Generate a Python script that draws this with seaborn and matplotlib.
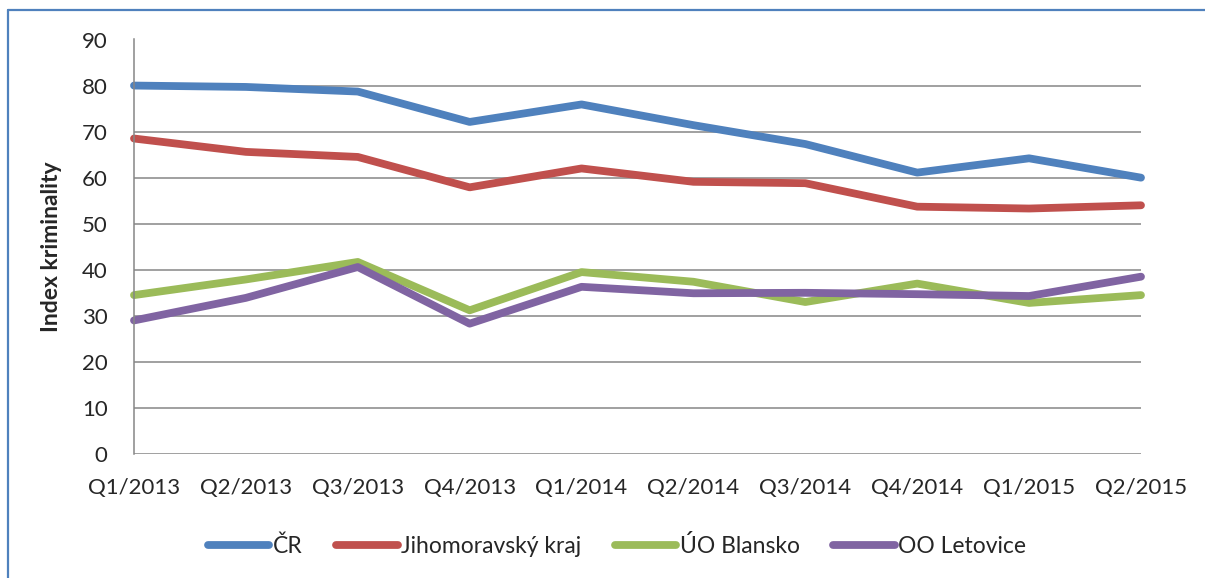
import seaborn as sns
import matplotlib.pyplot as plt
import pandas as pd
from matplotlib.lines import Line2D

# data
quarters = ['Q1/2013', 'Q2/2013', 'Q3/2013', 'Q4/2013', 'Q1/2014',
            'Q2/2014', 'Q3/2014', 'Q4/2014', 'Q1/2015', 'Q2/2015']
cr = [80.0, 79.7, 78.7, 72.1, 75.9, 71.4, 67.3, 61.1, 64.2, 60.0]
jihomoravsky = [68.5, 65.6, 64.5, 57.9, 62.0, 59.1, 58.8, 53.7, 53.3, 54.0]
blansko = [34.5, 37.9, 41.7, 31.2, 39.5, 37.4, 33.0, 37.0, 32.8, 34.5]
letovice = [29.0, 33.9, 40.6, 28.3, 36.3, 34.9, 35.0, 34.7, 34.3, 38.5]

series_names = ['ČR', 'Jihomoravský kraj', 'ÚO Blansko', 'OO Letovice']
colors = ['#4F81BD', '#C0504D', '#9BBB59', '#8064A2']

df = pd.DataFrame({'quarter': quarters,
                   series_names[0]: cr,
                   series_names[1]: jihomoravsky,
                   series_names[2]: blansko,
                   series_names[3]: letovice})
df = df.melt(id_vars='quarter', var_name='series', value_name='index')

sns.set_style('white')
plt.rcParams['font.family'] = ['Lato', 'DejaVu Sans']

fig = plt.figure(figsize=(12.05, 5.78), dpi=100)
ax = fig.add_axes([134 / 1205, 1 - 454 / 578, (1141 - 134) / 1205, (454 - 39.5) / 578])

sns.lineplot(data=df, x='quarter', y='index', hue='series', hue_order=series_names,
             palette=colors, linewidth=5.6, sort=False, ax=ax,
             solid_joinstyle='round', solid_capstyle='round', clip_on=False)

ax.set_xlim(0, len(quarters) - 1)
ax.set_ylim(0, 90)
ax.set_yticks(range(0, 100, 10))
ax.grid(axis='y', color='#868686', linewidth=1.1)
ax.set_axisbelow(True)
for side in ['top', 'right', 'bottom']:
    ax.spines[side].set_visible(False)
ax.spines['left'].set_color('#868686')
ax.spines['left'].set_linewidth(1.1)
ax.tick_params(axis='y', length=0, pad=19, labelsize=16)
ax.tick_params(axis='x', length=0, pad=17, labelsize=16)
ax.set_xlabel('')
ax.set_ylabel('Index kriminality', fontsize=16.5, fontweight='bold', labelpad=14)

handles, labels = ax.get_legend_handles_labels()
ax.get_legend().remove()
for h in handles:
    h.set_linewidth(5.6)
    h.set_solid_capstyle('round')
fig.legend(handles, labels, loc='center', bbox_to_anchor=(0.512, 0.055), ncol=4,
           frameon=False, handlelength=2.7, handletextpad=0.15, columnspacing=1.45,
           fontsize=16.5)

# chart-area border (top and left edges visible in the reference)
border = '#4F81BD'
fig.add_artist(Line2D([8 / 1205, 1], [1 - 10 / 578] * 2, transform=fig.transFigure,
                      color=border, linewidth=1.6))
fig.add_artist(Line2D([8 / 1205] * 2, [0, 1 - 10 / 578], transform=fig.transFigure,
                      color=border, linewidth=1.6))

fig.savefig('out.png', dpi=100)
